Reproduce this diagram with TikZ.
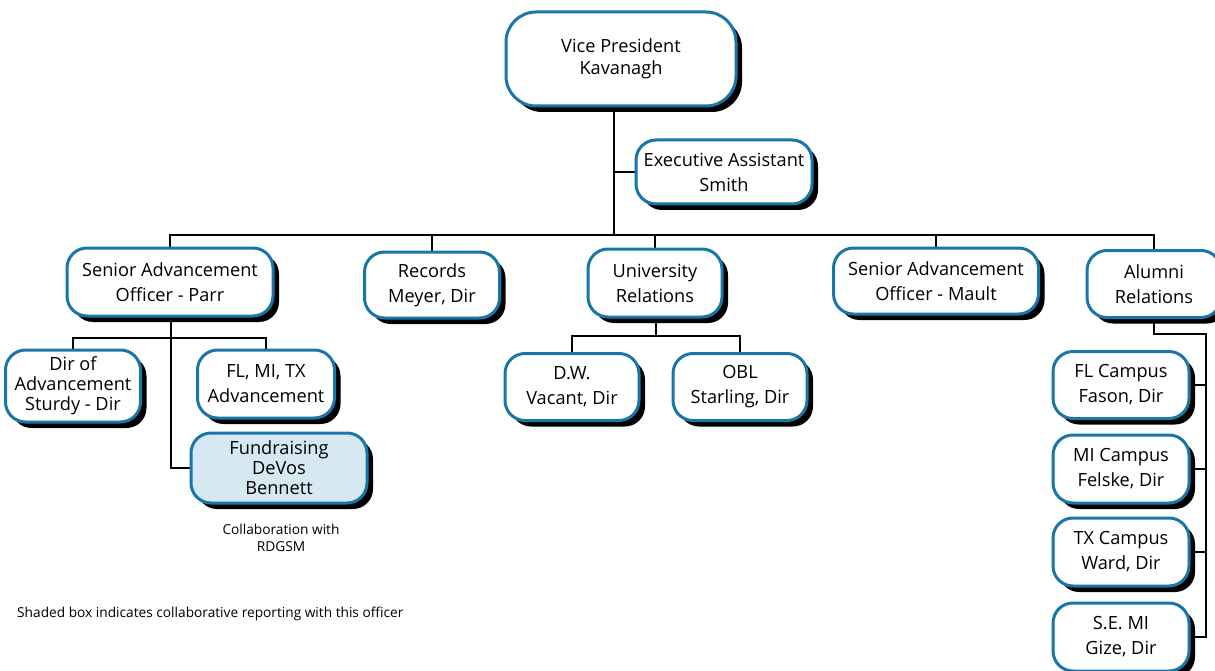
\documentclass[tikz,border=0pt]{standalone}
\usepackage{fontspec}
\setmainfont{Open Sans}
\usetikzlibrary{shadows,backgrounds}
\definecolor{rim}{HTML}{1A76A8}
\definecolor{paleblue}{HTML}{D6E9F2}
\begin{document}
\begin{tikzpicture}[x=1pt,y=-1pt,
  box/.style={draw=rim, line width=3pt, fill=white, rounded corners=20pt,
    align=center, inner sep=0pt, font=\fontsize{18.2}{25}\selectfont,
    drop shadow={shadow xshift=6pt, shadow yshift=-6pt, fill=black, opacity=1}},
  link/.style={draw=black, line width=2pt},
  note/.style={font=\fontsize{13.7}{17}\selectfont, align=center, inner sep=0pt}]
\useasboundingbox (0,0) rectangle (1215,671);
\clip (0,0) rectangle (1215,671);

% top
\node[box, rounded corners=30pt, minimum width=230, minimum height=94] (vp) at (621,59) {Vice President\\[-3pt]Kavanagh};
\node[box, minimum width=176, minimum height=64] (exec) at (724,172) {Executive Assistant\\Smith};

% second tier
\node[box, minimum width=206, minimum height=68] (parr) at (170,282) {Senior Advancement\\Officer - Parr};
\node[box, minimum width=135, minimum height=66] (rec) at (432,285) {Records\\Meyer, Dir};
\node[box, minimum width=134, minimum height=68] (univ) at (655,283) {University\\Relations};
\node[box, minimum width=205, minimum height=66] (mault) at (936,281) {Senior Advancement\\Officer - Mault};
\node[box, minimum width=134, minimum height=67] (alum) at (1154,284) {Alumni\\Relations};

% under Parr
\node[box, minimum width=135, minimum height=72] (dir) at (73,386) {Dir of\\[-5pt]Advancement\\[-5pt]Sturdy - Dir};
\node[box, minimum width=137, minimum height=68] (fmt) at (266,384) {FL, MI, TX\\Advancement};
\node[box, fill=paleblue, minimum width=176, minimum height=70] (fund) at (279,468) {Fundraising\\[-5pt]DeVos\\[-5pt]Bennett};
\node[note] (collab) at (281,538) {Collaboration with\\RDGSM};

% under University Relations
\node[box, minimum width=134, minimum height=67] (dw) at (572,387) {D.W.\\Vacant, Dir};
\node[box, minimum width=134, minimum height=67] (obl) at (740,387) {OBL\\Starling, Dir};

% under Alumni Relations
\node[box, minimum width=136, minimum height=67] (fl) at (1121,385) {FL Campus\\Fason, Dir};
\node[box, minimum width=136, minimum height=68] (mi) at (1121,469) {MI Campus\\Felske, Dir};
\node[box, minimum width=136, minimum height=68] (tx) at (1121,552) {TX Campus\\Ward, Dir};
\node[box, minimum width=136, minimum height=68] (se) at (1121,637) {S.E. MI\\Gize, Dir};

\node[note, anchor=west] (legend) at (17,614) {Shaded box indicates collaborative reporting with this officer};

% junction points of the connector tree
\coordinate (hub) at (614,235);
\coordinate (pbar) at (171,338);
\coordinate (ubar) at (656,336);
\coordinate (arail) at (1206,334);

\begin{scope}[on background layer]
  \draw[link] (vp.south -| hub) -- (hub);
  \draw[link] (exec.west) -- (exec.west -| hub);
  \draw[link] (parr.north) |- (hub) -| (alum.north);
  \draw[link] (rec.north) -- (rec.north |- hub);
  \draw[link] (univ.north) -- (univ.north |- hub);
  \draw[link] (mault.north) -- (mault.north |- hub);

  \draw[link] (parr.south -| pbar) |- (fund.west);
  \draw[link] (dir.north) |- (pbar) -| (fmt.north);

  \draw[link] (univ.south -| ubar) -- (ubar);
  \draw[link] (dw.north) |- (ubar) -| (obl.north);

  \draw[link] (alum.south) |- (arail) |- (se.east);
  \draw[link] (fl.east) -- (fl.east -| arail);
  \draw[link] (mi.east) -- (mi.east -| arail);
  \draw[link] (tx.east) -- (tx.east -| arail);
\end{scope}
\end{tikzpicture}
\end{document}
